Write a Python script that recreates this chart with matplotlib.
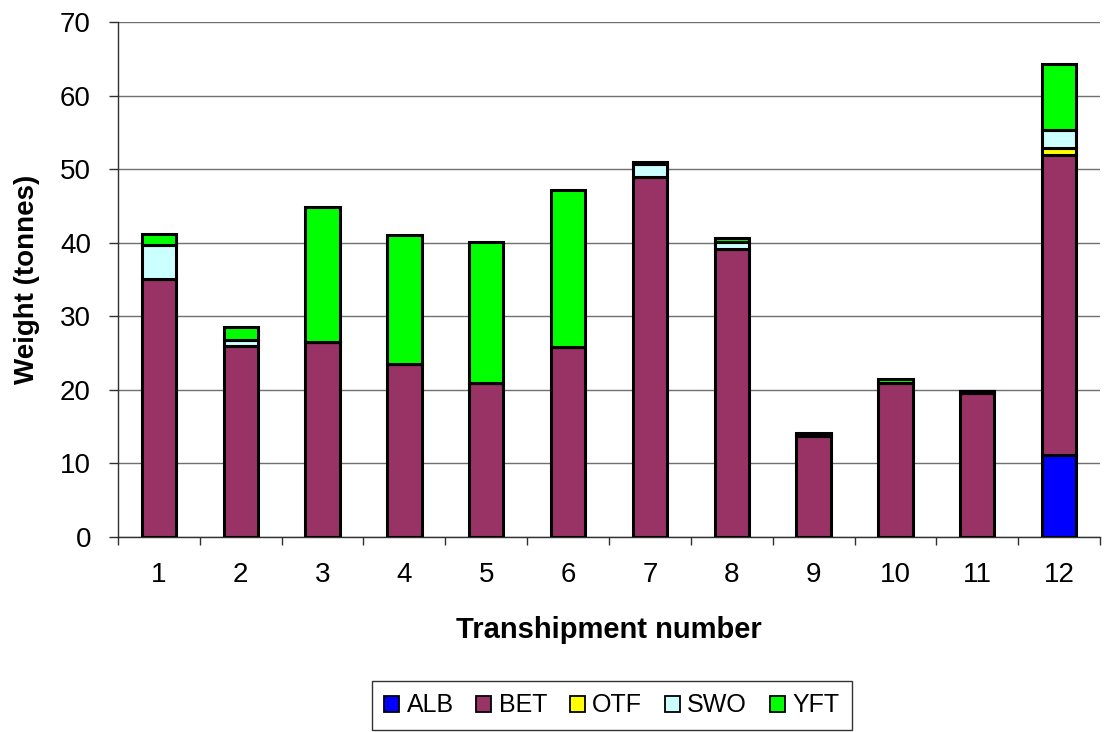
import matplotlib
matplotlib.use("Agg")
import matplotlib.pyplot as plt
import numpy as np

plt.rcParams['font.family'] = ['Liberation Sans', 'DejaVu Sans']

categories = ['1', '2', '3', '4', '5', '6', '7', '8', '9', '10', '11', '12']
alb = [0, 0, 0, 0, 0, 0, 0, 0, 0, 0, 0, 11.1]
bet = [35.0, 26.0, 26.5, 23.5, 20.9, 25.8, 48.9, 39.2, 13.7, 20.9, 19.6, 40.8]
otf = [0, 0, 0, 0, 0, 0, 0, 0, 0, 0, 0, 1.0]
swo = [4.7, 0.8, 0, 0, 0, 0, 1.8, 0.9, 0.3, 0, 0.3, 2.4]
yft = [1.5, 1.7, 18.3, 17.6, 19.2, 21.3, 0.3, 0.5, 0.1, 0.6, 0.0, 9.0]

series = [('ALB', alb, '#0000FF'), ('BET', bet, '#993366'), ('OTF', otf, '#FFFF00'),
          ('SWO', swo, '#CCFFFF'), ('YFT', yft, '#00FF00')]

fig = plt.figure(figsize=(11.1, 7.32), dpi=100)
ax = fig.add_axes([0.1063, 0.2664, 0.8847, 0.7036])

x = np.arange(len(categories))
bottom = np.zeros(len(categories))
handles = []
for name, vals, col in series:
    v = np.array(vals, dtype=float)
    h = ax.bar(x, v, 0.42, bottom=bottom, color=col, edgecolor='black', linewidth=2.2, label=name, zorder=3)
    handles.append(h)
    bottom += v

ax.set_xlim(-0.5, len(categories) - 0.5)
ax.set_ylim(0, 70)
ax.set_yticks(np.arange(0, 71, 10))
ax.yaxis.grid(True, color='#707070', linewidth=1.0, zorder=0)
ax.set_axisbelow(True)
for s in ['top', 'right']:
    ax.spines[s].set_visible(False)
ax.spines['left'].set_color('#303030')
ax.spines['bottom'].set_color('#303030')
ax.spines['left'].set_linewidth(1.0)
ax.spines['bottom'].set_linewidth(1.0)

ax.set_xticks(x)
ax.set_xticklabels(categories, fontsize=20)
ax.set_xticks(np.arange(-0.5, len(categories), 1), minor=True)
ax.tick_params(axis='x', which='major', length=0, pad=18)
ax.tick_params(axis='x', which='minor', length=5.5, width=1.0, direction='out', color='#303030')
ax.tick_params(axis='y', labelsize=20, length=6.5, width=1.0, direction='out', pad=13, color='#303030')

ax.set_xlabel('Transhipment number', fontsize=21, fontweight='bold', labelpad=20)
ax.set_ylabel('Weight (tonnes)', fontsize=20, fontweight='bold', labelpad=14)

leg = fig.legend(handles=handles, labels=[s[0] for s in series], loc='upper center',
                 bbox_to_anchor=(0.551, 1 - 681 / 732), ncol=5, fontsize=18, frameon=True,
                 fancybox=False, edgecolor='black', handlelength=0.6, handleheight=0.6,
                 handletextpad=0.3, columnspacing=0.9, borderpad=0.5, borderaxespad=0)
leg.get_frame().set_linewidth(1.0)
for p in leg.get_patches():
    p.set_linewidth(1.3)

fig.savefig('out.png', dpi=100)
